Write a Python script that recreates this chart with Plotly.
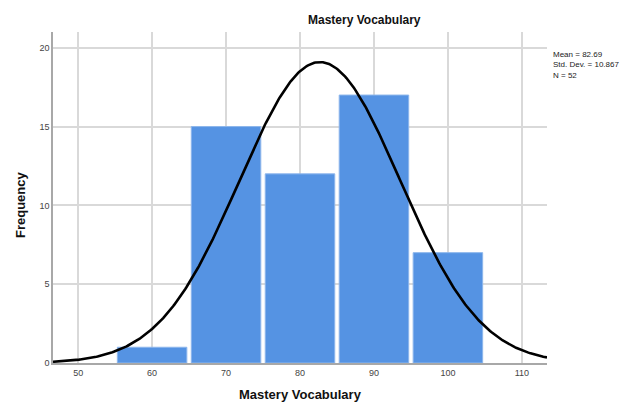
import numpy as np
import plotly.graph_objects as go

bin_centers = [60, 70, 80, 90, 100]
frequencies = [1, 15, 12, 17, 7]
bin_width = 10
mean_val = 82.69
std_val = 10.867
n_val = 52
x_ticks = [50, 60, 70, 80, 90, 100, 110]
y_ticks = [0, 5, 10, 15, 20]

x_range = [46.6, 113.4]
y_range = [0, 21]

xs = np.linspace(x_range[0], x_range[1], 400)
ys = n_val * bin_width / (std_val * np.sqrt(2 * np.pi)) * np.exp(-0.5 * ((xs - mean_val) / std_val) ** 2)

# page body has an 8px margin; figure is drawn from (8, 8)
OFF = 8
W, H = 628 - OFF, 403 - OFF
L, T = 53 - OFF, 32 - OFF
R, B = W - (547 - OFF), H - (363 - OFF)

fig = go.Figure()
fig.add_trace(go.Bar(
    x=bin_centers, y=frequencies, width=9.4,
    marker=dict(color="#5593E3", line=dict(color="#8DB6EC", width=1)),
    hoverinfo="x+y",
))
fig.add_trace(go.Scatter(
    x=xs, y=ys, mode="lines",
    line=dict(color="black", width=2.6),
    hoverinfo="skip",
))

pw = W - L - R
ph = H - T - B

def px_x(p):
    return (p - OFF - L) / pw

def px_y(p):
    return (H - B - (p - OFF)) / ph

fig.update_layout(
    width=W, height=H,
    margin=dict(l=L, r=R, t=T, b=B, autoexpand=False),
    paper_bgcolor="white", plot_bgcolor="white",
    showlegend=False,
    font=dict(family="Liberation Sans, Arial, sans-serif", color="#333333"),
    annotations=[
        dict(text="<b>Mastery Vocabulary</b>", xref="paper", yref="paper",
             x=px_x(364), y=px_y(20), xanchor="center", yanchor="middle",
             showarrow=False, font=dict(size=12, color="#111111")),
        dict(text=f"Mean = {mean_val}<br>Std. Dev. = {std_val}<br>N = {n_val}",
             xref="paper", yref="paper", x=px_x(551), y=px_y(48),
             xanchor="left", yanchor="top", align="left", showarrow=False,
             font=dict(size=8, color="#222222")),
        dict(text="<b>Mastery Vocabulary</b>", xref="paper", yref="paper",
             x=px_x(300), y=px_y(394), xanchor="center", yanchor="middle",
             showarrow=False, font=dict(size=13, color="#111111")),
        dict(text="<b>Frequency</b>", xref="paper", yref="paper",
             x=px_x(20), y=px_y(205), xanchor="center", yanchor="middle",
             textangle=-90, showarrow=False, font=dict(size=13, color="#111111")),
    ],
)
fig.update_xaxes(
    range=x_range, tickvals=x_ticks, ticktext=[str(v) for v in x_ticks],
    showgrid=True, gridcolor="#D9D9D9", gridwidth=1.5,
    showline=True, linecolor="#A8A8A8", linewidth=1.5,
    ticks="", tickfont=dict(size=9, color="#444444"),
    automargin=False, zeroline=False, fixedrange=True,
)
fig.update_yaxes(
    range=y_range, tickvals=y_ticks, ticktext=[str(v) for v in y_ticks],
    showgrid=True, gridcolor="#D9D9D9", gridwidth=1.5,
    showline=True, linecolor="#A8A8A8", linewidth=1.5,
    ticks="", tickfont=dict(size=9, color="#444444"),
    automargin=False, zeroline=False, fixedrange=True,
)

fig.write_html("out.html")
